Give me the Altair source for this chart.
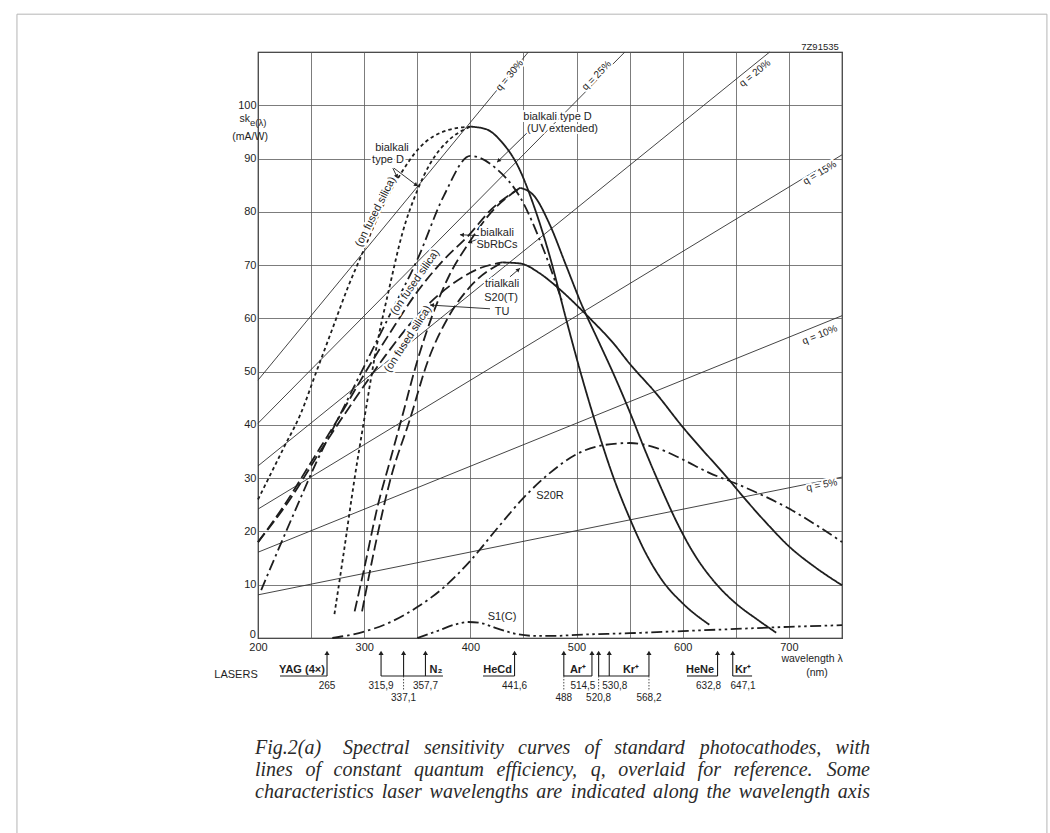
import math
import altair as alt
import pandas as pd

# ---------------- values ----------------
# lines of constant quantum efficiency (end points: wavelength nm, sensitivity mA/W)
q_names = ["q = 30%", "q = 25%", "q = 20%", "q = 15%", "q = 10%", "q = 5%"]
q_lam_a = [200, 200, 200, 200, 200, 200]
q_s_a = [48.4, 40.3, 32.3, 24.2, 16.1, 8.1]
q_lam_b = [454.6, 545.5, 681.9, 750, 750, 750]
q_s_b = [110, 110, 110, 90.7, 60.5, 30.2]
q_label_lam = [437, 519, 668, 729, 729, 731]
q_label_s = [105.6, 105.6, 106.0, 87.3, 56.9, 28.7]

# bialkali type D - common long-wave part (solid)
typeD_lam = [400, 415, 430, 445, 460, 475, 490, 505, 520, 535, 550, 565, 580, 600, 625]
typeD_s = [96, 95.5, 93, 88.5, 81, 71.5, 60, 49, 39, 30, 22.5, 16, 11, 6.5, 2.5]
# bialkali type D on fused silica (short dash)
typeDfs_lam = [200, 210, 225, 240, 255, 270, 285, 300, 315, 334, 352, 378, 400]
typeDfs_s = [26, 30, 36, 42, 50, 58, 66, 73, 80, 87, 92, 95.3, 96]
# bialkali type D on glass (short dash)
typeDg_lam = [272, 280, 291, 300, 312, 324, 336, 350, 362, 380, 400]
typeDg_s = [4.5, 15, 30, 41, 55, 66, 76, 84, 89, 93.5, 96]
# bialkali type D, UV extended (dash-dot)
uv_lam = [203, 220, 238, 255, 275, 300, 325, 350, 375, 400, 425, 447, 468, 486]
uv_s = [9, 17, 25.3, 33, 41, 51, 61, 71, 83, 90.5, 88, 82.7, 73.4, 63.4]
# bialkali SbRbCs - long-wave part (solid)
sb_lam = [447, 460, 475, 490, 505, 520, 535, 550, 565, 580, 595, 610, 630, 650, 670, 688]
sb_s = [84.5, 83, 77.5, 70, 62.5, 56, 49.5, 42.5, 35, 28, 21.5, 16, 10.5, 6.5, 3.5, 1]
# bialkali SbRbCs on fused silica / on glass (long dash)
sbfs_lam = [200, 225, 250, 275, 300, 325, 350, 375, 398, 420, 447]
sbfs_s = [18, 25, 33, 41, 49.5, 57.5, 65, 71, 75.5, 80.5, 84.5]
sbg_lam = [291, 300, 313, 324, 335, 350, 365, 380, 398, 420, 447]
sbg_s = [5, 13, 25, 33, 41, 52, 61, 68, 74, 80, 84.5]
# trialkali S20(T) - long-wave part (solid)
tri_lam = [430, 447, 465, 481, 500, 515, 534, 550, 575, 600, 620, 638, 660, 682, 699, 726, 750]
tri_s = [70.5, 70.3, 68.5, 66, 62.5, 59.5, 55.5, 51.5, 45.9, 39.6, 35, 31, 25.8, 20.9, 17.4, 13.1, 9.9]
# trialkali on fused silica (TU) / on glass (long dash)
trifs_lam = [200, 230, 260, 290, 320, 350, 380, 410, 430]
trifs_s = [18, 26, 35.5, 44.5, 53, 60.5, 66, 69.5, 70.5]
trig_lam = [298, 310, 325, 343, 360, 380, 400, 430]
trig_s = [5, 17, 30, 41, 52, 60.5, 66, 70.5]
# S20R (dash-dot)
s20r_lam = [270, 300, 325, 350, 375, 400, 425, 450, 475, 500, 525, 550, 575, 600, 625, 650, 675, 700, 725, 750]
s20r_s = [0, 1.2, 3, 5.8, 9.5, 14.5, 20.5, 26.3, 31, 34.5, 36.2, 36.6, 35.7, 33.5, 31, 29, 26.8, 24.3, 21.3, 18]
# S1(C) (dash-dot-dot)
s1_lam = [350, 370, 385, 398, 410, 425, 440, 460, 480, 500, 550, 600, 650, 700, 750]
s1_s = [0, 1.4, 2.5, 3, 2.8, 1.8, 0.9, 0.4, 0.4, 0.6, 0.9, 1.3, 1.7, 2.1, 2.4]

# curve annotations
anno_text = ["bialkali", "type D", "bialkali type D", "(UV extended)", "bialkali", "SbRbCs",
             "trialkali", "S20(T)", "TU", "S20R", "S1(C)",
             "(on fused silica)", "(on fused silica)", "(on fused silica)"]
anno_lam = [326.2, 322.4, 482.1, 486.8, 425.1, 425.1, 429.8, 428.9, 429.8, 475, 429.8, 311, 347.9, 341.3]
anno_s = [92.0, 89.7, 97.8, 95.6, 76.0, 73.8, 66.5, 63.8, 61.2, 26.7, 3.9, 80, 66.8, 56.1]
anno_angle = [0, 0, 0, 0, 0, 0, 0, 0, 0, 0, 0, 297, 305, 303]
# annotation arrows (from -> to)
arrow_lam0 = [327, 328, 453.3, 411.9, 411.9, 437.3, 418.5]
arrow_s0 = [88.2, 88.2, 94.8, 75.5, 75.2, 67.8, 61.8]
arrow_lam1 = [331.5, 350.5, 425.1, 390.2, 397.8, 446.7, 362]
arrow_s1 = [86.3, 84.8, 89.3, 75.7, 74.2, 69.4, 62.5]

# lasers
laser_lam = [265, 315.9, 337.1, 357.7, 441.6, 488, 514.5, 520.8, 530.8, 568.2, 632.8, 647.1]
laser_label = ["265", "315,9", "337,1", "357,7", "441,6", "488", "514,5", "520,8", "530,8", "568,2", "632,8", "647,1"]
laser_label_lam = [265, 315.9, 337.1, 357.7, 441.6, 488, 506, 520.8, 536, 568.2, 624.3, 656.8]
laser_label_row = [1, 1, 2, 1, 1, 2, 1, 2, 1, 2, 1, 1]
laser_dotted = [337.1, 488, 520.8, 568.2]
group_name = ["YAG (4\u00d7)", "N\u2082", "HeCd", "Ar\u207a", "Kr\u207a", "HeNe", "Kr\u207a"]
group_name_lam = [241.4, 367.6, 425.6, 501.4, 551.3, 616.3, 656.8]
group_from = [220.7, 315.9, 411.9, 488, 520.8, 604, 647.1]
group_to = [265, 374.2, 441.6, 514.5, 568.2, 632.8, 665.3]

caption_head = "Fig.2(a)"
caption_lines = [
    "Spectral sensitivity curves of standard photocathodes, with",
    "lines of constant quantum efficiency, q, overlaid for reference. Some",
    "characteristics laser wavelengths are indicated along the wavelength axis",
]

# ---------------- layout / style ----------------
W, H = 584, 586
XD, YD = [200, 750], [0, 110]
PX_NM = W / (XD[1] - XD[0])
PX_U = H / (YD[1] - YD[0])
INK = "#1e1e1e"
SANS = "Liberation Sans"
SERIF = "Liberation Serif"

Y_TIP, Y_BASE, Y_NAME, Y_ROW1, Y_ROW2, Y_DOT = -2.25, -7.13, -6.0, -9.0, -11.3, -9.9

XS = alt.Scale(domain=XD, nice=False, zero=False)
YS = alt.Scale(domain=YD, nice=False, zero=False)
AXX = alt.Axis(values=list(range(200, 751, 50)),
               labelExpr="datum.value % 100 == 0 && datum.value < 750 ? datum.label : ''",
               grid=True, ticks=False, domain=False, title=None, labelFontSize=11,
               labelPadding=3, labelColor=INK, labelFont=SANS, gridColor="#5a5a5a",
               gridWidth=0.8, labelOverlap=False, labelFlush=False)
AXY = alt.Axis(values=list(range(0, 111, 10)),
               labelExpr="datum.value > 0 && datum.value < 110 ? datum.label : ''",
               grid=True, ticks=False, domain=False, title=None, labelFontSize=11,
               labelPadding=2, labelColor=INK, labelFont=SANS, gridColor="#5a5a5a",
               gridWidth=0.8, labelOverlap=False, labelFlush=False)


def X(f):
    return alt.X(f"{f}:Q", scale=XS, axis=AXX)


def Y(f):
    return alt.Y(f"{f}:Q", scale=YS, axis=AXY)


# ---------------- tables ----------------
q_rows = []
for n, la, sa, lb, sb in zip(q_names, q_lam_a, q_s_a, q_lam_b, q_s_b):
    q_rows += [dict(q=n, lam=la, s=sa), dict(q=n, lam=lb, s=sb)]
q_df = pd.DataFrame(q_rows)

curve_specs = [
    ("typeD", "solid", typeD_lam, typeD_s),
    ("typeDfs", "short", typeDfs_lam, typeDfs_s),
    ("typeDg", "short", typeDg_lam, typeDg_s),
    ("uv", "dashdot", uv_lam, uv_s),
    ("sb", "solid", sb_lam, sb_s),
    ("sbfs", "long", sbfs_lam, sbfs_s),
    ("sbg", "long", sbg_lam, sbg_s),
    ("tri", "solid", tri_lam, tri_s),
    ("trifs", "long", trifs_lam, trifs_s),
    ("trig", "long", trig_lam, trig_s),
    ("s20r", "dashdot", s20r_lam, s20r_s),
    ("s1", "dashdotdot", s1_lam, s1_s),
]
c_rows = []
for name, style, lams, vals in curve_specs:
    for la, v in zip(lams, vals):
        c_rows.append(dict(curve=name, style=style, lam=la, s=v))
c_df = pd.DataFrame(c_rows)


def slope_angle(la, sa, lb, sb):
    ang = math.degrees(math.atan2((sb - sa) * PX_U, (lb - la) * PX_NM))
    return (360 - ang) % 360


ql_df = pd.DataFrame(dict(
    text=q_names, lam=q_label_lam, s=q_label_s,
    angle=[slope_angle(a, b, c, d) for a, b, c, d in zip(q_lam_a, q_s_a, q_lam_b, q_s_b)]))
an_df = pd.DataFrame(dict(text=anno_text, lam=anno_lam, s=anno_s, angle=anno_angle))


def head_angle(x0, y0, x1, y1):
    return math.degrees(math.atan2((x1 - x0) * PX_NM, (y1 - y0) * PX_U)) % 360


ar_df = pd.DataFrame(dict(lam=arrow_lam0, s=arrow_s0, lam2=arrow_lam1, s2=arrow_s1))
heads = []
for x0, y0, x1, y1 in zip(arrow_lam0, arrow_s0, arrow_lam1, arrow_s1):
    dx, dy = (x1 - x0) * PX_NM, (y1 - y0) * PX_U
    d = math.hypot(dx, dy)
    back = 2.0
    heads.append(dict(lam=x1 - dx / d * back / PX_NM, s=y1 - dy / d * back / PX_U,
                      angle=head_angle(x0, y0, x1, y1)))
hd_df = pd.DataFrame(heads)

las_df = pd.DataFrame(dict(lam=laser_lam, s=[Y_BASE] * len(laser_lam), s2=[Y_TIP - 0.6] * len(laser_lam),
                           tip=[Y_TIP - 0.55] * len(laser_lam)))
lab_df = pd.DataFrame(dict(text=laser_label, lam=laser_label_lam,
                           s=[Y_ROW1 if r == 1 else Y_ROW2 for r in laser_label_row]))
dot_df = pd.DataFrame(dict(lam=laser_dotted, s=[Y_BASE] * len(laser_dotted), s2=[Y_DOT] * len(laser_dotted)))
grp_df = pd.DataFrame(dict(lam=group_from, lam2=group_to, s=[Y_BASE] * len(group_from)))
gn_df = pd.DataFrame(dict(text=group_name, lam=group_name_lam, s=[Y_NAME] * len(group_name)))

misc_df = pd.DataFrame(dict(
    text=["LASERS", "wavelength \u03bb", "(nm)", "7Z91535", "(mA/W)"],
    lam=[179.3, 721.8, 726.5, 729.3, 192.6],
    s=[-6.9, -3.94, -6.6, 110.9, 94.05],
    size=[11, 10.5, 10.5, 9.5, 10.5]))
zero_df = pd.DataFrame(dict(text=["0"], lam=[198.1], s=[0.65]))
frame_df = pd.DataFrame(dict(lam=[-27.0], lam2=[943.0], s=[117.1], s2=[-40.0]))

# caption: justified word placement (Times-compatible italic advance widths, per 1000 em)
CW = {" ": 250, "a": 500, "b": 500, "c": 444, "d": 500, "e": 444, "f": 278, "g": 500, "h": 500,
      "i": 278, "j": 278, "k": 444, "l": 278, "m": 722, "n": 500, "o": 500, "p": 500, "q": 500,
      "r": 389, "s": 389, "t": 278, "u": 500, "v": 444, "w": 667, "x": 444, "y": 444, "z": 389,
      "S": 500, "F": 611, ",": 250, ".": 250, "(": 333, ")": 333}
CAP_SIZE = 20
CAP_X0, CAP_X1, CAP_HEAD_END = 255, 870, 343  # pixel anchors of the caption block
CAP_BASE_PY = [754, 776, 798]


def word_w(w):
    return sum(CW.get(ch, 500) for ch in w) / 1000 * CAP_SIZE


cap_rows = [dict(text=caption_head, px=CAP_X0, py=CAP_BASE_PY[0])]
for i, line in enumerate(caption_lines):
    words = line.split(" ")
    start = CAP_HEAD_END if i == 0 else CAP_X0
    widths = [word_w(w) for w in words]
    gap = (CAP_X1 - start - sum(widths)) / (len(words) - 1)
    x = start
    for w, ww in zip(words, widths):
        cap_rows.append(dict(text=w, px=x, py=CAP_BASE_PY[i]))
        x += ww + gap
cap_df = pd.DataFrame(cap_rows)
cap_df["lam"] = XD[0] + (cap_df["px"] - 258) / PX_NM
cap_df["s"] = (638 - cap_df["py"]) / PX_U

# ---------------- layers ----------------
frame = alt.Chart(frame_df).mark_rect(fillOpacity=0, stroke="#b5b5b5", strokeWidth=1).encode(
    x=X("lam"), x2="lam2", y=Y("s"), y2="s2")

qlines = alt.Chart(q_df).mark_line(color="#303030", strokeWidth=0.9).encode(
    x=X("lam"), y=Y("s"), detail="q:N")

curves = alt.Chart(c_df).mark_line(color=INK, strokeWidth=1.8, interpolate="monotone").encode(
    x=X("lam"), y=Y("s"), detail="curve:N",
    strokeDash=alt.StrokeDash("style:N", legend=None, scale=alt.Scale(
        domain=["solid", "short", "long", "dashdot", "dashdotdot"],
        range=[[1, 0], [3.5, 3], [11, 4.5], [11, 4, 2.5, 4], [11, 3.5, 2.5, 3.5, 2.5, 3.5]])))


def texts(df, size, weight="normal", style="normal", font=SANS, align="center", halo=False,
          angle=False, size_field=False, baseline="middle", color=INK):
    enc = dict(x=X("lam"), y=Y("s"), text="text:N")
    if angle:
        enc["angle"] = alt.Angle("angle:Q", scale=None)
    if size_field:
        enc["size"] = alt.Size("size:Q", scale=None)
    kw = dict(fontSize=size, fontWeight=weight, fontStyle=style, font=font, align=align, baseline=baseline)
    out = []
    if halo:
        out.append(alt.Chart(df).mark_text(color="white", stroke="white", strokeWidth=4,
                                           strokeJoin="round", **kw).encode(**enc))
    out.append(alt.Chart(df).mark_text(color=color, **kw).encode(**enc))
    return out


arrows = alt.Chart(ar_df).mark_rule(color=INK, strokeWidth=0.9).encode(
    x=X("lam"), y=Y("s"), x2="lam2", y2="s2")
arrowheads = alt.Chart(hd_df).mark_point(shape="triangle-up", filled=True, color=INK, size=20,
                                         opacity=1).encode(
    x=X("lam"), y=Y("s"), angle=alt.Angle("angle:Q", scale=None))

laser_stems = alt.Chart(las_df).mark_rule(color=INK, strokeWidth=1.1).encode(
    x=X("lam"), y=Y("s"), y2="s2")
laser_heads = alt.Chart(las_df).mark_point(shape="triangle-up", filled=True, color=INK, size=26,
                                           opacity=1).encode(x=X("lam"), y=Y("tip"))
laser_dots = alt.Chart(dot_df).mark_rule(color=INK, strokeWidth=0.8, strokeDash=[1.5, 1.5]).encode(
    x=X("lam"), y=Y("s"), y2="s2")
group_lines = alt.Chart(grp_df).mark_rule(color=INK, strokeWidth=1.1).encode(
    x=X("lam"), x2="lam2", y=Y("s"))

sk = alt.Chart(pd.DataFrame(dict(text=["sk"], lam=[192.4], s=[97.45]))).mark_text(
    fontSize=10.5, font=SANS, align="right", baseline="middle", color=INK).encode(
    x=X("lam"), y=Y("s"), text="text:N")
sub = alt.Chart(pd.DataFrame(dict(text=["e(\u03bb)"], lam=[192.5], s=[96.7]))).mark_text(
    fontSize=9.5, font=SANS, align="left", baseline="middle", color=INK).encode(
    x=X("lam"), y=Y("s"), text="text:N")

layers = [frame, qlines, curves, arrows, arrowheads, laser_stems, laser_heads, laser_dots, group_lines]
layers += texts(ql_df, 10, halo=True, angle=True)
layers += texts(an_df, 11, halo=True, angle=True)
layers += texts(lab_df, 10)
layers += texts(gn_df, 11, weight="bold")
layers += texts(misc_df, 10.5, size_field=True)
layers += texts(zero_df, 11, align="right")
layers += texts(cap_df, CAP_SIZE, style="italic", font=SERIF, align="left", baseline="alphabetic",
                color="#2a2a2a")
layers += [sk, sub]

chart = alt.layer(*layers).properties(
    width=W, height=H,
    padding={"left": 258, "top": 52, "right": 1050 - 258 - W, "bottom": 833 - 52 - H},
    autosize=alt.AutoSizeParams(type="none"),
    background="white",
).configure_view(stroke="#111", strokeWidth=1.2)

chart.save("out.html", embed_options={"renderer": "svg", "actions": False})
